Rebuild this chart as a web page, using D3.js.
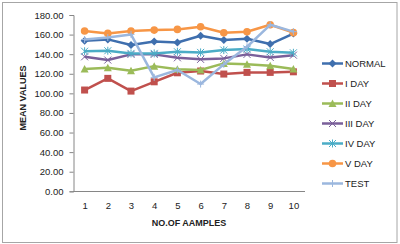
<!DOCTYPE html>
<html>
<head>
<meta charset="utf-8">
<script src="https://cdn.jsdelivr.net/npm/d3@7"></script>
<style>
  body { margin: 0; background: #fff; }
  svg { display: block; font-family: "Liberation Sans", Arial, sans-serif; }
</style>
</head>
<body>
<svg id="chart" width="400" height="244"></svg>
<script>
// sample numbers on the x axis
const samples = [1, 2, 3, 4, 5, 6, 7, 8, 9, 10];
const yTicks = [0, 20, 40, 60, 80, 100, 120, 140, 160, 180];

const seriesNames = ["NORMAL", "I DAY", "II DAY", "III DAY", "IV DAY", "V DAY", "TEST"];
const normal = [153.7, 155.1, 149.3, 153.0, 152.0, 158.8, 154.4, 155.7, 150.3, 161.0];
const day1 = [103.4, 115.3, 102.3, 111.8, 121.0, 122.8, 119.7, 121.4, 121.4, 122.0];
const day2 = [124.8, 126.1, 123.0, 127.8, 124.5, 123.8, 130.6, 129.6, 128.2, 124.8];
const day3 = [137.3, 134.0, 139.8, 139.8, 136.3, 134.7, 135.7, 139.8, 136.7, 139.0];
const day4 = [143.0, 143.5, 140.8, 140.8, 142.5, 141.8, 144.2, 145.2, 142.5, 141.4];
const day5 = [163.6, 161.2, 163.6, 164.6, 165.3, 168.0, 161.8, 162.9, 170.0, 162.0];
const test = [155.0, 157.0, 160.2, 116.3, 123.8, 109.5, 129.6, 147.6, 170.0, 163.0];

const colors = ["#3f6fae", "#c0504d", "#9bbb59", "#7a5f9a", "#4bacc6", "#f79646", "#9bb7de"];
const markers = ["diamond", "square", "triangle", "cross", "asterisk", "circle", "plus"];

const allValues = [normal, day1, day2, day3, day4, day5, test];

const svg = d3.select("#chart");

// chart frame
svg.append("rect")
  .attr("x", 2.5).attr("y", 2.5)
  .attr("width", 394.5).attr("height", 240)
  .attr("fill", "#fff").attr("stroke", "#a6a6a6").attr("stroke-width", 1);

const x = d3.scalePoint().domain(samples).range([73, 305]).padding(0.5);
const y = d3.scaleLinear().domain([0, 180]).range([191.3, 15]);

// y axis
const yAxis = svg.append("g")
  .attr("transform", "translate(73.5,0)")
  .call(d3.axisLeft(y).tickValues(yTicks).tickFormat(d3.format(".2f")).tickSize(4).tickPadding(6));
yAxis.select(".domain").attr("stroke", "#868686");
yAxis.selectAll(".tick line").attr("stroke", "#868686");
yAxis.selectAll("text").attr("font-size", 9.5).attr("fill", "#222").attr("font-family", "Liberation Sans, Arial, sans-serif");

// x axis
const xAxis = svg.append("g")
  .attr("transform", "translate(0,191.5)")
  .call(d3.axisBottom(x).tickSize(0).tickPadding(11));
xAxis.select(".domain").attr("stroke", "#868686").attr("d", "M73,0H305");
xAxis.selectAll("text").attr("font-size", 9.5).attr("fill", "#222").attr("font-family", "Liberation Sans, Arial, sans-serif");

// axis titles
svg.append("text")
  .attr("x", 189).attr("y", 226)
  .attr("text-anchor", "middle")
  .attr("font-size", 9).attr("font-weight", "bold").attr("fill", "#222")
  .text("NO.OF AAMPLES");

svg.append("text")
  .attr("transform", "translate(26,98) rotate(-90)")
  .attr("text-anchor", "middle")
  .attr("font-size", 9).attr("font-weight", "bold").attr("fill", "#222")
  .text("MEAN VALUES");

function drawMarker(g, type, color) {
  const s = 3.5;
  if (type === "diamond") {
    g.append("path").attr("d", `M0,${-s - 0.5}L${s + 0.5},0L0,${s + 0.5}L${-s - 0.5},0Z`).attr("fill", color);
  } else if (type === "square") {
    g.append("rect").attr("x", -s).attr("y", -s).attr("width", 2 * s).attr("height", 2 * s).attr("fill", color);
  } else if (type === "triangle") {
    g.append("path").attr("d", `M0,${-s - 0.5}L${s + 0.5},${s}L${-s - 0.5},${s}Z`).attr("fill", color);
  } else if (type === "circle") {
    g.append("circle").attr("r", s + 0.3).attr("fill", color);
  } else if (type === "cross") {
    g.append("path").attr("d", `M${-s},${-s}L${s},${s}M${-s},${s}L${s},${-s}`).attr("stroke", color).attr("stroke-width", 1);
  } else if (type === "asterisk") {
    g.append("path").attr("d", `M${-s},${-s}L${s},${s}M${-s},${s}L${s},${-s}M0,${-s - 0.5}V${s + 0.5}`).attr("stroke", color).attr("stroke-width", 1);
  } else if (type === "plus") {
    g.append("path").attr("d", `M${-s},0H${s}M0,${-s}V${s}`).attr("stroke", color).attr("stroke-width", 1);
  }
}

const line = d3.line().x((d, i) => x(samples[i])).y(d => y(d));

const plot = svg.append("g");
allValues.forEach((vals, k) => {
  plot.append("path")
    .attr("d", line(vals))
    .attr("fill", "none")
    .attr("stroke", colors[k])
    .attr("stroke-width", 2.5)
    .attr("stroke-linejoin", "round");
  vals.forEach((v, i) => {
    const g = plot.append("g").attr("transform", `translate(${x(samples[i])},${y(v)})`);
    drawMarker(g, markers[k], colors[k]);
  });
});

// legend
const legend = svg.append("g");
seriesNames.forEach((name, k) => {
  const ly = 63.5 + k * 20;
  legend.append("line")
    .attr("x1", 322).attr("x2", 343)
    .attr("y1", ly).attr("y2", ly)
    .attr("stroke", colors[k]).attr("stroke-width", 2.5);
  const g = legend.append("g").attr("transform", `translate(332.5,${ly})`);
  drawMarker(g, markers[k], colors[k]);
  legend.append("text")
    .attr("x", 345).attr("y", ly + 3.5)
    .attr("font-size", 9.5).attr("fill", "#222")
    .text(name);
});
</script>
</body>
</html>
